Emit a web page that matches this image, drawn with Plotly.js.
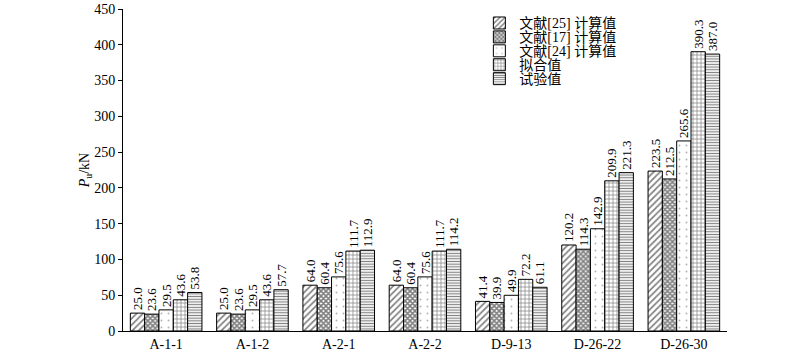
<!DOCTYPE html>
<html>
<head>
<meta charset="utf-8">
<script src="https://cdn.plot.ly/plotly-3.0.1.min.js"></script>
<style>html,body{margin:0;padding:0;background:#fff;}#chart{width:800px;height:355px;}</style>
</head>
<body>
<div id="chart"></div>
<script>
const categories = ['A-1-1', 'A-1-2', 'A-2-1', 'A-2-2', 'D-9-13', 'D-26-22', 'D-26-30'];
const seriesNames = ['文献[25] 计算值', '文献[17] 计算值', '文献[24] 计算值', '拟合值', '试验值'];
const ref25 = [25.0, 25.0, 64.0, 64.0, 41.4, 120.2, 223.5];
const ref17 = [23.6, 23.6, 60.4, 60.4, 39.9, 114.3, 212.5];
const ref24 = [29.5, 29.5, 75.6, 75.6, 49.9, 142.9, 265.6];
const fitted = [43.6, 43.6, 111.7, 111.7, 72.2, 209.9, 390.3];
const tested = [53.8, 57.7, 112.9, 114.2, 61.1, 221.3, 387.0];
const yTicks = [0, 50, 100, 150, 200, 250, 300, 350, 400, 450];

const allValues = [ref25, ref17, ref24, fitted, tested];
const patterns = [
  {shape: '/', size: 4.5, solidity: 0.38, fgcolor: '#000', bgcolor: '#fff', fillmode: 'overlay'},
  {shape: 'x', size: 3.5, solidity: 0.7, fgcolor: '#000', bgcolor: '#fff', fillmode: 'overlay'},
  {shape: '.', size: 7, solidity: 0.06, fgcolor: '#666', bgcolor: '#fff', fillmode: 'overlay'},
  {shape: '+', size: 4, solidity: 0.32, fgcolor: '#000', bgcolor: '#fff', fillmode: 'overlay'},
  {shape: '-', size: 2.7, solidity: 0.42, fgcolor: '#000', bgcolor: '#fff', fillmode: 'overlay'}
];
const legendIds = ['legend', 'legend2', 'legend3', 'legend4', 'legend5'];

const serif = 'Liberation Serif, Times New Roman, serif';
const cjk = 'Liberation Serif, Noto Sans CJK SC, serif';

const traces = allValues.map((vals, i) => ({
  type: 'bar',
  name: seriesNames[i],
  x: categories,
  y: vals,
  legend: legendIds[i],
  marker: {color: '#fff', pattern: patterns[i], line: {color: '#000', width: 1}},
  texttemplate: '%{y:.1f}',
  textposition: 'outside',
  textangle: -90,
  constraintext: 'none',
  textfont: {family: serif, size: 13, color: '#000'},
  cliponaxis: false,
  hoverinfo: 'skip'
}));

const layout = {
  width: 800, height: 355,
  margin: {l: 123, r: 73, t: 7, b: 24},
  paper_bgcolor: '#fff', plot_bgcolor: '#fff',
  barmode: 'group', bargap: 0.17, bargroupgap: 0,
  font: {family: serif, size: 14, color: '#000'},
  xaxis: {
    type: 'category', range: [-0.5, 6.5],
    showline: true, linecolor: '#000', linewidth: 1,
    ticks: '', showgrid: false, zeroline: false,
    tickfont: {family: serif, size: 14, color: '#000'}
  },
  yaxis: {
    range: [0, 450], tickvals: yTicks,
    showline: true, linecolor: '#000', linewidth: 1,
    ticks: 'outside', ticklen: 4, tickcolor: '#000',
    showgrid: false, zeroline: false,
    tickfont: {family: serif, size: 14, color: '#000'},
    title: {text: '<i>P</i><sub>u</sub>/kN', font: {family: serif, size: 14, color: '#000'}, standoff: 1}
  },
  showlegend: true
};
legendIds.forEach((id, i) => {
  layout[id] = {
    x: 0.59, xanchor: 'left',
    y: 1.005 - i * 14 / 324, yanchor: 'top',
    bgcolor: 'rgba(0,0,0,0)', borderwidth: 0,
    font: {family: cjk, size: 14, color: '#000'},
    itemwidth: 30, tracegroupgap: 0
  };
});

Plotly.newPlot('chart', traces, layout, {displayModeBar: false, staticPlot: true});
</script>
</body>
</html>
